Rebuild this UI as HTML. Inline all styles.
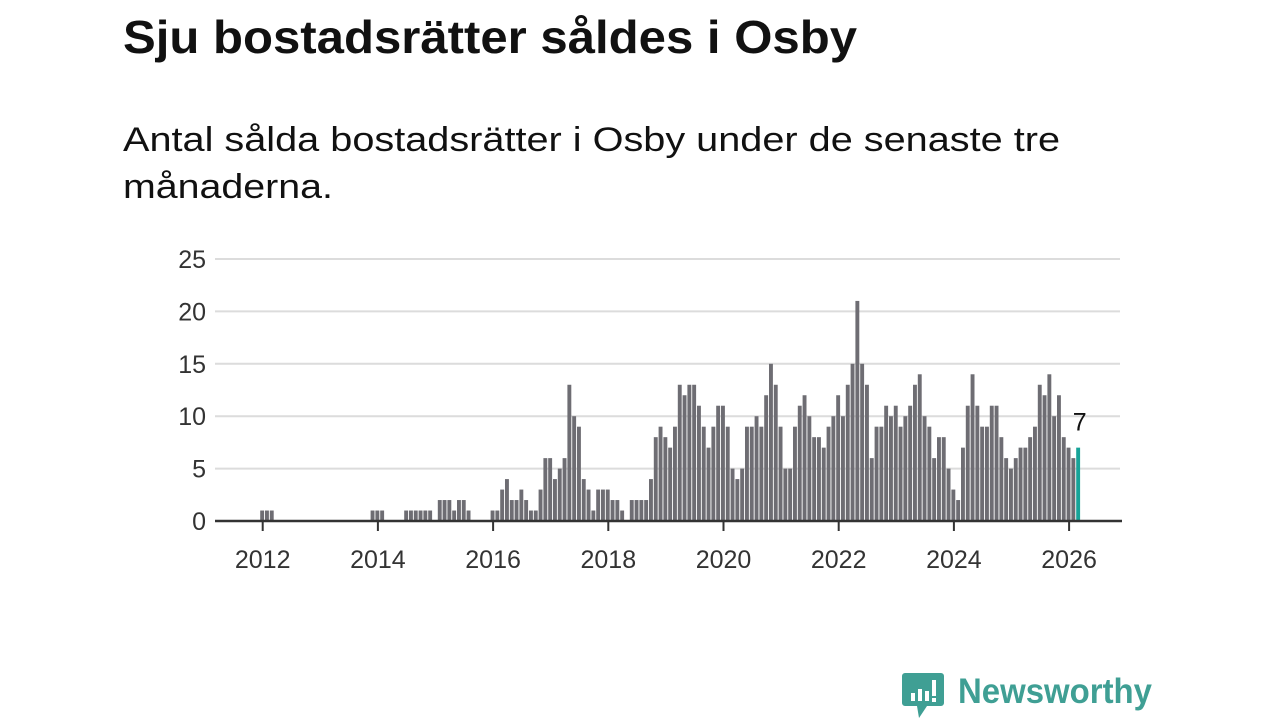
<!DOCTYPE html>
<html><head><meta charset="utf-8"><style>
html,body{margin:0;padding:0;background:#fff;width:1280px;height:720px;overflow:hidden}
svg{display:block;font-family:"Liberation Sans","DejaVu Sans",sans-serif}
</style></head><body>
<svg id="chart" width="1280" height="720" viewBox="0 0 1280 720">
<text x="123" y="53" font-size="46" font-weight="bold" fill="#111" textLength="734" lengthAdjust="spacingAndGlyphs">Sju bostadsrätter såldes i Osby</text>
<text x="123" y="151" font-size="34" fill="#111" textLength="937" lengthAdjust="spacingAndGlyphs">Antal sålda bostadsrätter i Osby under de senaste tre</text>
<text x="123" y="198" font-size="34" fill="#111" textLength="210" lengthAdjust="spacingAndGlyphs">månaderna.</text>
<g id="grid"></g><g id="bars"></g><g id="axis"></g>
<g>
<path d="M905 673 h36 a3 3 0 0 1 3 3 v27 a3 3 0 0 1 -3 3 h-14 l-8 12 l-2 -12 h-12 a3 3 0 0 1 -3 -3 v-27 a3 3 0 0 1 3 -3z" fill="#3f9f94"/>
<rect x="911" y="693" width="4" height="8" fill="#fff"/><rect x="918" y="689" width="4" height="12" fill="#fff"/><rect x="925" y="691" width="4" height="10" fill="#fff"/><rect x="932" y="680" width="4" height="16" fill="#fff"/><rect x="932" y="698" width="4" height="4" fill="#fff"/>
<text x="958" y="703" font-size="35" font-weight="bold" fill="#3f9f94" textLength="194" lengthAdjust="spacingAndGlyphs">Newsworthy</text>
</g>
</svg>
<script>
const yTicks=[0,5,10,15,20,25];
const years=[2012,2014,2016,2018,2020,2022,2024,2026];
const startYear=2012;
const sales=[1,1,1,0,0,0,0,0,0,0,0,0,0,0,0,0,0,0,0,0,0,0,0,1,1,1,0,0,0,0,
1,1,1,1,1,1,0,2,2,2,1,2,2,1,0,0,0,0,1,1,3,4,2,2,3,2,
1,1,3,6,6,4,5,6,13,10,9,4,3,1,3,3,3,2,2,1,0,2,2,2,2,4,8,9,8,7,9,13,12,13,13,11,9,7,9,11,11,9,5,4,5,9,9,10,9,12,15,13,9,5,5,9,11,12,10,8,8,7,9,
10,12,10,13,15,21,15,13,6,9,9,11,10,11,9,10,11,13,14,10,9,6,8,8,5,3,2,7,11,14,11,9,9,11,11,8,6,5,6,7,7,8,9,13,12,14,10,12,8,7,6,7];
const NS="http://www.w3.org/2000/svg";
const x=m=>262.7+m*4.8;
const y=v=>521-v*10.48;
const grid=document.getElementById('grid'),bars=document.getElementById('bars'),axis=document.getElementById('axis');
function mk(tag,attrs,parent){const e=document.createElementNS(NS,tag);for(const k in attrs)e.setAttribute(k,attrs[k]);parent.appendChild(e);return e;}
yTicks.forEach(t=>{
  if(t>0){const l=mk('line',{x1:215,x2:1120,y1:y(t),y2:y(t),stroke:'#dcdcdc','stroke-width':2},grid);
  
  }
  const tx=mk('text',{x:206,y:y(t)+9,'font-size':25,'text-anchor':'end',fill:'#333'},grid);
  tx.textContent=t;
  
  
});
sales.forEach((v,i)=>{
  if(v<=0)return;
  const last=i===sales.length-1;
  const r=mk('rect',{x:x(i)-2.5,y:y(v),width:3.9,height:v*10.48,fill:last?'#17a398':'#6e6d73'},bars);
  
  
});
const li=sales.length-1;
const lab=mk('text',{x:x(li)+1,y:y(sales[li])-17,'font-size':25,'text-anchor':'middle',fill:'#111'},bars);
lab.textContent=sales[li];


const ax=mk('line',{x1:215,x2:1122,y1:521,y2:521,stroke:'#333','stroke-width':2.5},axis);


years.forEach(yr=>{
  const px=x((yr-startYear)*12);
  const t=mk('line',{x1:px,x2:px,y1:521,y2:531,stroke:'#333','stroke-width':2},axis);
  
  
  const tx=mk('text',{x:px,y:568,'font-size':25,'text-anchor':'middle',fill:'#333'},axis);
  tx.textContent=yr;
  
  
});
</script>
</body></html>
